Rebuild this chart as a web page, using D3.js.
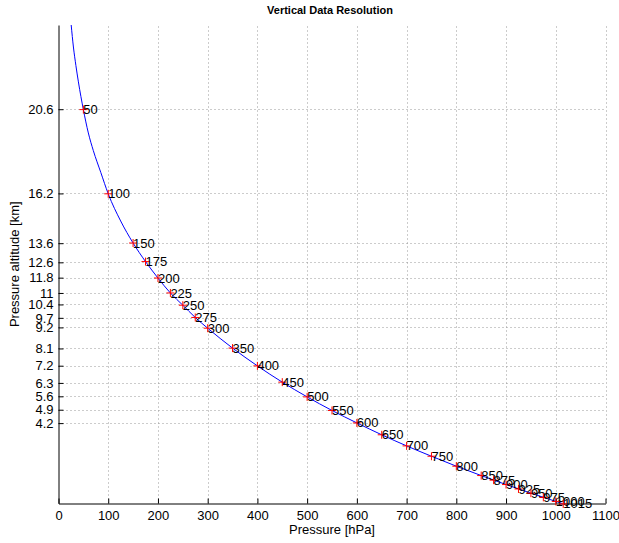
<!DOCTYPE html>
<html>
<head>
<meta charset="utf-8">
<script src="https://cdn.jsdelivr.net/npm/d3@7"></script>
<style>
  body { margin: 0; background: #fff; }
  svg { font-family: "Liberation Sans", Arial, sans-serif; }
</style>
</head>
<body>
<svg width="619" height="543"></svg>
<script>
// pressure levels (hPa) with marker labels and their pressure altitude (km)
var levels = [50, 100, 150, 175, 200, 225, 250, 275, 300, 350, 400, 450, 500, 550, 600,
              650, 700, 750, 800, 850, 875, 900, 925, 950, 975, 1000, 1015];
var levelAlt = [20.58, 16.18, 13.61, 12.64, 11.78, 11.0, 10.36, 9.72, 9.16, 8.12, 7.19, 6.34, 5.57, 4.86, 4.21,
                3.59, 3.01, 2.47, 1.95, 1.46, 1.22, 0.99, 0.76, 0.54, 0.32, 0.11, -0.02];

// blue curve samples
var curveP = [25.5, 30, 35, 40, 50, 60, 70, 85, 100, 125, 150, 175, 200, 225, 250, 275, 300, 350, 400, 450,
              500, 550, 600, 650, 700, 750, 800, 850, 900, 950, 1000, 1013];
var curveAlt = [25.0, 23.85, 22.88, 22.03, 20.58, 19.36, 18.44, 17.3, 16.18, 14.76, 13.61, 12.64, 11.78, 11.0, 10.36, 9.72, 9.16,
                8.12, 7.19, 6.34, 5.57, 4.86, 4.21, 3.59, 3.01, 2.47, 1.95, 1.46, 0.99, 0.54, 0.11, 0.0];

var xTicks = [0, 100, 200, 300, 400, 500, 600, 700, 800, 900, 1000, 1100];
var yTicks = [4.2, 4.9, 5.6, 6.3, 7.2, 8.1, 9.2, 9.7, 10.4, 11, 11.8, 12.6, 13.6, 16.2, 20.6];

var svg = d3.select("svg");
var mLeft = 58.5, mRight = 605.5, mTop = 25, mBottom = 503.5;

var xScale = d3.scaleLinear().domain([0, 1100]).range([mLeft, mRight]),
    yScale = d3.scaleLinear().domain([0, 25]).range([mBottom, mTop]);

// dotted grid
var grid = svg.append("g").attr("stroke", "#999").attr("stroke-dasharray", "1,3");
grid.selectAll(".gx")
    .data(xTicks.slice(1))
    .enter().append("line")
    .attr("x1", function(d) { return Math.round(xScale(d)) + 0.5; })
    .attr("x2", function(d) { return Math.round(xScale(d)) + 0.5; })
    .attr("y1", mBottom)
    .attr("y2", mTop);
grid.selectAll(".gy")
    .data(yTicks)
    .enter().append("line")
    .attr("y1", function(d) { return Math.round(yScale(d)) + 0.5; })
    .attr("y2", function(d) { return Math.round(yScale(d)) + 0.5; })
    .attr("x1", mLeft)
    .attr("x2", mRight);

// axes, ticks pointing inward
var xAxis = svg.append("g")
   .attr("transform", "translate(0," + mBottom + ")")
   .call(d3.axisBottom(xScale).tickValues(xTicks).tickSizeInner(-5).tickSizeOuter(0).tickPadding(7)
         .tickFormat(function(d) { return d; }));
var yAxis = svg.append("g")
   .attr("transform", "translate(" + mLeft + ",0)")
   .call(d3.axisLeft(yScale).tickValues(yTicks).tickSizeInner(-5).tickSizeOuter(0).tickPadding(6)
         .tickFormat(function(d) { return d; }));

svg.selectAll(".domain").attr("stroke", "#000");
svg.selectAll(".tick line").attr("stroke", "#000");
svg.selectAll(".tick text").attr("font-size", 13).attr("fill", "#000")
   .attr("font-family", "Liberation Sans, Arial, sans-serif");
yAxis.selectAll(".tick text").attr("x", -5);

// curve
var line = d3.line()
    .x(function(d, i) { return xScale(curveP[i]); })
    .y(function(d) { return yScale(d); })
    .curve(d3.curveMonotoneX);

svg.append("path")
   .datum(curveAlt)
   .attr("d", line)
   .attr("fill", "none")
   .attr("stroke", "#0000ff")
   .attr("stroke-width", 1);

// markers and labels
var pts = svg.selectAll(".pt")
    .data(levels)
    .enter().append("g")
    .attr("class", "pt")
    .attr("transform", function(d, i) {
      return "translate(" + xScale(d) + "," + yScale(levelAlt[i]) + ")";
    });
pts.append("path")
   .attr("d", "M-4,0H4M0,-4V4")
   .attr("stroke", "#ff0000")
   .attr("stroke-width", 1);
pts.append("text")
   .attr("x", 0)
   .attr("dy", "0.35em")
   .attr("font-size", 13)
   .attr("fill", "#000")
   .text(function(d) { return d; });

// titles
svg.append("text")
   .attr("x", (mLeft + mRight) / 2 - 2)
   .attr("y", 14)
   .attr("text-anchor", "middle")
   .attr("font-size", 11)
   .attr("font-weight", "bold")
   .text("Vertical Data Resolution");

svg.append("text")
   .attr("x", (mLeft + mRight) / 2)
   .attr("y", 534)
   .attr("text-anchor", "middle")
   .attr("font-size", 13)
   .text("Pressure [hPa]");

svg.append("text")
   .attr("transform", "translate(19," + (mTop + mBottom) / 2 + ") rotate(-90)")
   .attr("text-anchor", "middle")
   .attr("font-size", 13)
   .text("Pressure altitude [km]");
</script>
</body>
</html>
